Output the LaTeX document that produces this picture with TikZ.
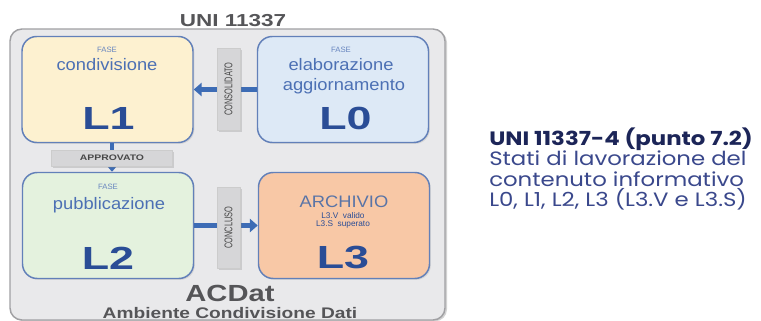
\documentclass[tikz,border=0pt]{standalone}
\usepackage{fontspec}
\setmainfont{Liberation Sans}
\newfontfamily\gothicfont{Poppins}
\usetikzlibrary{arrows.meta,shadows}
\definecolor{acdatgray}{RGB}{233,233,235}
\definecolor{acdatframe}{RGB}{160,160,163}
\definecolor{stateframe}{RGB}{98,128,185}
\definecolor{stateyellow}{RGB}{253,241,208}
\definecolor{stateblue}{RGB}{221,233,246}
\definecolor{stategreen}{RGB}{228,242,222}
\definecolor{stateorange}{RGB}{248,200,166}
\definecolor{flowblue}{RGB}{61,108,181}
\definecolor{labelblue}{RGB}{76,112,180}
\definecolor{levelnavy}{RGB}{42,77,150}
\definecolor{tabgray}{RGB}{214,214,216}
\definecolor{titlegray}{RGB}{85,85,88}
\definecolor{notenavy}{RGB}{28,37,88}
\definecolor{noteblue}{RGB}{58,72,140}
\newcommand{\stretchx}[2]{\scalebox{#1}[1]{#2}}

\begin{document}
\begin{tikzpicture}[x=0.75pt,y=-0.75pt,>=Stealth,line cap=round,line join=round,
  panel/.style={draw=acdatframe,fill=acdatgray,line width=1.1pt,rounded corners=9pt,
    minimum width=326.25pt,minimum height=218.25pt,inner sep=0pt,
    drop shadow={shadow xshift=1.5pt,shadow yshift=-1pt,opacity=.35}},
  state/.style={draw=stateframe,line width=1.1pt,rounded corners=11pt,
    minimum width=128.25pt,minimum height=79.5pt,inner sep=0pt,
    drop shadow={shadow xshift=1pt,shadow yshift=-1pt,opacity=.2}},
  fase/.style={text=labelblue!85!white,font=\fontsize{5.8}{6}\selectfont,inner sep=0pt},
  phase/.style={text=labelblue,font=\fontsize{12.5}{14}\selectfont,inner sep=0pt},
  level/.style={text=levelnavy,font=\fontsize{24}{24}\selectfont\bfseries,inner sep=0pt},
  tab/.style={draw=black!20,fill=tabgray,inner sep=0pt,
    drop shadow={shadow xshift=1.2pt,shadow yshift=-1.2pt,opacity=.28}},
  tabtext/.style={text=black!72,font=\fontsize{8.4}{9}\selectfont,inner sep=0pt},
  heading/.style={text=titlegray,inner sep=0pt},
  flow/.style={draw=flowblue,line width=3.6pt,line cap=butt,-{Triangle[length=6pt,width=10pt]}},
  note/.style={anchor=base west,inner sep=0pt,font=\gothicfont\fontsize{14.5}{15}\selectfont}]
 \clip (0,0) rectangle (761,321);
 \fill[white] (0,0) rectangle (761,321);
 % ambiente condivisione dati
 \node[panel] (acdat) at (227.5,174.5) {};
 \node[heading,font=\fontsize{13}{14}\selectfont\bfseries] (uni) at (233,20.5) {\stretchx{1.3}{UNI 11337}};
 % stati di lavorazione
 \node[state,fill=stateyellow] (l1) at (107.5,89.5) {};
 \node[state,fill=stateblue] (l0) at (343,89.5) {};
 \node[state,fill=stategreen] (l2) at (108,225.5) {};
 \node[state,fill=stateorange] (l3) at (344,225.5) {};
 \node[fase] (l1fase) at (107,50) {FASE};
 \node[phase] (l1name) at (107,65) {\stretchx{1.1}{condivisione}};
 \node[level] (l1code) at (108.5,118.5) {\stretchx{1.4}{L1}};
 \node[fase] (l0fase) at (341,50) {FASE};
 \node[phase] (l0name) at (341,65) {\stretchx{1.1}{elaborazione}};
 \node[phase] (l0more) at (344,86) {\stretchx{1.1}{aggiornamento}};
 \node[level] (l0code) at (345.5,118.5) {\stretchx{1.4}{L0}};
 \node[fase] (l2fase) at (108,187) {FASE};
 \node[phase] (l2name) at (109,205) {\stretchx{1.1}{pubblicazione}};
 \node[level] (l2code) at (108,258) {\stretchx{1.4}{L2}};
 \node[phase,text=labelblue!75!gray] (l3name) at (344,202) {\stretchx{1.1}{ARCHIVIO}};
 \node[fase,text=levelnavy,font=\fontsize{6.2}{7}\selectfont] (l3v) at (343,216) {L3.V\ \ valido};
 \node[fase,text=levelnavy,font=\fontsize{6.2}{7}\selectfont] (l3s) at (343,224.5) {L3.S\ \ superato};
 \node[level] (l3code) at (343,258) {\stretchx{1.4}{L3}};
 % passaggi
 \coordinate (approvaline) at (112,0);
 \draw[flow] (l0) -- (l1);
 \draw[flow] (approvaline |- l1.south) -- (approvaline |- l2.north);
 \draw[flow] (l2) -- (l3);
 \node[tab,minimum width=17.25pt,minimum height=61.5pt] (consolidato) at (228.5,89) {};
 \node[tabtext,rotate=90] (consolidatotext) at (consolidato) {\stretchx{.66}{CONSOLIDATO}};
 \node[tab,minimum width=90.75pt,minimum height=12pt] (approvato) at (112,158) {};
 \node[tabtext,font=\fontsize{6}{7}\selectfont\bfseries] (approvatotext) at (approvato) {\stretchx{1.3}{APPROVATO}};
 \node[tab,minimum width=17.25pt,minimum height=60.75pt] (concluso) at (228.5,227.5) {};
 \node[tabtext,rotate=90] (conclusotext) at (concluso) {\stretchx{.66}{CONCLUSO}};
 \node[heading,font=\fontsize{17.5}{18}\selectfont\bfseries] (acdatname) at (230,293.5) {\stretchx{1.25}{ACDat}};
 \node[heading,font=\fontsize{11.5}{12}\selectfont\bfseries] (acdatlong) at (230,313.5) {\stretchx{1.25}{Ambiente Condivisione Dati}};
 % nota
 \node[note,text=notenavy,font=\gothicfont\fontsize{14.5}{15}\selectfont\bfseries] (notetitle) at (489,146) {\stretchx{1.18}{UNI 11337-4 (punto 7.2)}};
 \node[note,text=noteblue] (noteline1) at (489,166) {\stretchx{1.18}{Stati di lavorazione del}};
 \node[note,text=noteblue] (noteline2) at (489,186) {\stretchx{1.18}{contenuto informativo}};
 \node[note,text=noteblue] (noteline3) at (489,206) {\stretchx{1.18}{L0, L1, L2, L3 (L3.V e L3.S)}};
\end{tikzpicture}
\end{document}
